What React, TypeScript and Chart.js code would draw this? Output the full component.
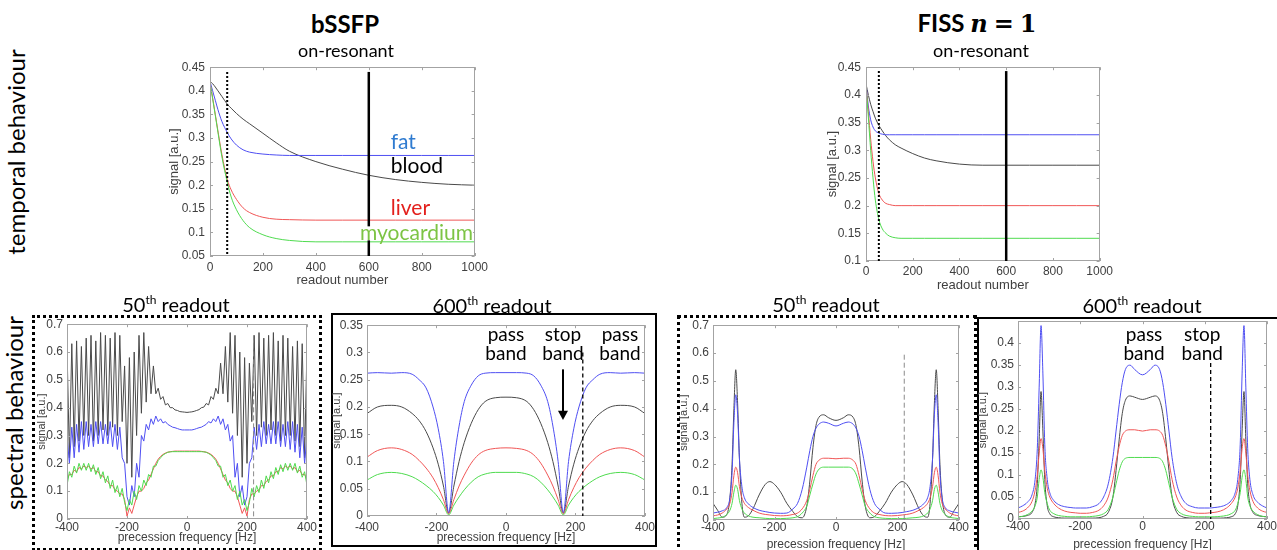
import React, { useEffect, useRef } from "react";
import { Chart, registerables } from "chart.js";
Chart.register(...registerables);

// ---------- colours ----------
const C_BLOOD = "#4a4a4a";
const C_FAT = "#4f4ff2";
const C_LIVER = "#f05656";
const C_MYO = "#4fdb4f";

// ---------- temporal behaviour, bSSFP (readout number) ----------
const readoutsBssfp = [0, 10, 20, 30, 45, 65, 80, 100, 125, 150, 200, 250, 300, 400, 500, 600, 700, 800, 900, 1000];
const bssfpBlood = [0.42, 0.415, 0.408, 0.4, 0.388, 0.372, 0.363, 0.352, 0.34, 0.33, 0.31, 0.29, 0.272, 0.25, 0.234, 0.221, 0.212, 0.206, 0.202, 0.2];
const bssfpFat = [0.42, 0.4, 0.38, 0.36, 0.335, 0.312, 0.298, 0.285, 0.275, 0.27, 0.266, 0.264, 0.263, 0.263, 0.263, 0.263, 0.263, 0.263, 0.263, 0.263];
const bssfpLiver = [0.418, 0.385, 0.35, 0.315, 0.265, 0.213, 0.19, 0.17, 0.152, 0.142, 0.132, 0.128, 0.127, 0.126, 0.126, 0.126, 0.126, 0.126, 0.126, 0.126];
const bssfpMyo = [0.418, 0.383, 0.348, 0.312, 0.26, 0.207, 0.175, 0.148, 0.125, 0.11, 0.095, 0.087, 0.083, 0.08, 0.08, 0.08, 0.08, 0.08, 0.08, 0.08];

// ---------- temporal behaviour, FISS n=1 ----------
const readoutsFiss = [0, 10, 20, 30, 40, 55, 70, 85, 100, 125, 150, 200, 250, 300, 400, 500, 600, 700, 800, 900, 1000];
const fissBlood = [0.42, 0.4, 0.383, 0.37, 0.358, 0.345, 0.335, 0.326, 0.319, 0.31, 0.304, 0.294, 0.286, 0.281, 0.275, 0.273, 0.273, 0.273, 0.273, 0.273, 0.273];
const fissFat = [0.42, 0.38, 0.355, 0.342, 0.335, 0.331, 0.329, 0.328, 0.328, 0.328, 0.328, 0.328, 0.328, 0.328, 0.328, 0.328, 0.328, 0.328, 0.328, 0.328, 0.328];
const fissLiver = [0.418, 0.37, 0.32, 0.28, 0.25, 0.222, 0.21, 0.204, 0.202, 0.2, 0.2, 0.2, 0.2, 0.2, 0.2, 0.2, 0.2, 0.2, 0.2, 0.2, 0.2];
const fissMyo = [0.418, 0.36, 0.3, 0.25, 0.21, 0.175, 0.158, 0.15, 0.145, 0.142, 0.141, 0.141, 0.141, 0.141, 0.141, 0.141, 0.141, 0.141, 0.141, 0.141, 0.141];

// ---------- spectral, bSSFP 50th readout ----------
const freqB50 = [
  -400, -392, -384, -376, -368, -360, -352, -344, -336, -328,
  -320, -312, -304, -296, -288, -280, -272, -264, -256, -248,
  -240, -232, -224, -216, -208, -200, -192, -184, -176, -168,
  -160, -152, -144, -136, -128, -120, -112, -104, -96, -88,
  -80, -72, -64, -56, -48, -40, -32, -24, -16, -8,
  0,
  8, 16, 24, 32, 40, 48, 56, 64, 72, 80,
  88, 96, 104, 112, 120, 128, 136, 144, 152, 160,
  168, 176, 184, 192, 200, 208, 216, 224, 232, 240,
  248, 256, 264, 272, 280, 288, 296, 304, 312, 320,
  328, 336, 344, 352, 360, 368, 376, 384, 392, 400,
];
const b50Blood = [
  0.62, 0.22, 0.63, 0.26, 0.64, 0.28, 0.62, 0.3, 0.65, 0.3,
  0.66, 0.28, 0.64, 0.3, 0.67, 0.32, 0.66, 0.3, 0.65, 0.33,
  0.67, 0.3, 0.66, 0.35, 0.55, 0.2, 0.58, 0.15, 0.6, 0.3,
  0.66, 0.38, 0.67, 0.42, 0.62, 0.45, 0.55, 0.45, 0.47, 0.43,
  0.44, 0.41, 0.415, 0.4, 0.4, 0.392, 0.39, 0.386, 0.385, 0.384,
  0.383,
  0.384, 0.385, 0.387, 0.39, 0.393, 0.4, 0.402, 0.415, 0.41, 0.44,
  0.43, 0.47, 0.45, 0.56, 0.45, 0.62, 0.42, 0.67, 0.38, 0.66,
  0.3, 0.6, 0.15, 0.58, 0.2, 0.56, 0.35, 0.66, 0.3, 0.67,
  0.33, 0.65, 0.3, 0.66, 0.32, 0.67, 0.3, 0.64, 0.28, 0.66,
  0.3, 0.65, 0.3, 0.62, 0.28, 0.64, 0.26, 0.63, 0.22, 0.62,
];
const b50Fat = [
  0.3, 0.2, 0.33, 0.22, 0.34, 0.24, 0.35, 0.25, 0.35, 0.26,
  0.34, 0.26, 0.35, 0.27, 0.35, 0.27, 0.34, 0.27, 0.35, 0.26,
  0.34, 0.25, 0.33, 0.22, 0.2, 0.08, 0.05, 0.12, 0.08, 0.2,
  0.15, 0.3, 0.28, 0.34, 0.32, 0.36, 0.34, 0.37, 0.35, 0.36,
  0.345, 0.35, 0.34, 0.335, 0.33, 0.328, 0.325, 0.322, 0.32, 0.32,
  0.32,
  0.32, 0.32, 0.322, 0.325, 0.328, 0.33, 0.335, 0.34, 0.35, 0.345,
  0.36, 0.35, 0.37, 0.34, 0.36, 0.32, 0.34, 0.28, 0.3, 0.15,
  0.2, 0.08, 0.12, 0.05, 0.08, 0.2, 0.22, 0.33, 0.25, 0.34,
  0.26, 0.35, 0.27, 0.34, 0.27, 0.35, 0.27, 0.35, 0.26, 0.34,
  0.26, 0.35, 0.25, 0.35, 0.24, 0.34, 0.22, 0.33, 0.2, 0.3,
];
const b50Liver = [
  0.14, 0.16, 0.16, 0.175, 0.17, 0.185, 0.18, 0.19, 0.185, 0.19,
  0.18, 0.185, 0.17, 0.17, 0.155, 0.155, 0.14, 0.135, 0.12, 0.12,
  0.105, 0.1, 0.09, 0.09, 0.07, 0.01, 0.04, 0.02, 0.05, 0.08,
  0.1, 0.1, 0.11, 0.13, 0.14, 0.16, 0.18, 0.2, 0.215, 0.225,
  0.232, 0.237, 0.24, 0.242, 0.243, 0.244, 0.244, 0.244, 0.244, 0.244,
  0.244,
  0.244, 0.244, 0.244, 0.244, 0.244, 0.243, 0.242, 0.24, 0.237, 0.232,
  0.225, 0.215, 0.2, 0.18, 0.16, 0.14, 0.13, 0.11, 0.1, 0.1,
  0.08, 0.05, 0.02, 0.04, 0.01, 0.07, 0.09, 0.09, 0.1, 0.105,
  0.12, 0.12, 0.135, 0.14, 0.155, 0.155, 0.17, 0.17, 0.185, 0.18,
  0.19, 0.185, 0.19, 0.18, 0.185, 0.17, 0.175, 0.16, 0.16, 0.14,
];
const b50Myo = [
  0.12, 0.17, 0.15, 0.19, 0.165, 0.2, 0.175, 0.2, 0.175, 0.2,
  0.17, 0.195, 0.16, 0.185, 0.145, 0.17, 0.13, 0.155, 0.11, 0.14,
  0.095, 0.12, 0.08, 0.11, 0.06, 0.03, 0.07, 0.05, 0.1, 0.07,
  0.12, 0.1, 0.14, 0.12, 0.16, 0.15, 0.19, 0.19, 0.21, 0.22,
  0.23, 0.235, 0.24, 0.241, 0.242, 0.242, 0.242, 0.242, 0.242, 0.242,
  0.242,
  0.242, 0.242, 0.242, 0.242, 0.242, 0.242, 0.241, 0.24, 0.235, 0.23,
  0.22, 0.21, 0.19, 0.19, 0.15, 0.16, 0.12, 0.14, 0.1, 0.12,
  0.07, 0.1, 0.05, 0.07, 0.03, 0.06, 0.11, 0.08, 0.12, 0.095,
  0.14, 0.11, 0.155, 0.13, 0.17, 0.145, 0.185, 0.16, 0.195, 0.17,
  0.2, 0.175, 0.2, 0.175, 0.2, 0.165, 0.19, 0.15, 0.17, 0.12,
];

// ---------- spectral, bSSFP 600th readout ----------
const freqB600 = [-400, -370, -330, -300, -270, -250, -230, -210, -195, -180, -165, -150, -135, -120, -100, -80, -60, -30, 0, 30, 60, 80, 100, 120, 135, 150, 165, 180, 195, 210, 230, 250, 270, 300, 330, 370, 400];
const b600Fat = [0.262, 0.263, 0.262, 0.263, 0.26, 0.25, 0.235, 0.2, 0.16, 0.1, 0.006, 0.1, 0.165, 0.21, 0.24, 0.257, 0.262, 0.263, 0.263, 0.263, 0.262, 0.257, 0.24, 0.21, 0.165, 0.1, 0.006, 0.1, 0.16, 0.2, 0.235, 0.25, 0.26, 0.263, 0.262, 0.263, 0.262];
const b600Blood = [0.188, 0.2, 0.203, 0.2, 0.188, 0.175, 0.155, 0.125, 0.095, 0.055, 0.005, 0.055, 0.1, 0.135, 0.17, 0.195, 0.21, 0.217, 0.218, 0.217, 0.21, 0.195, 0.17, 0.135, 0.1, 0.055, 0.005, 0.055, 0.095, 0.125, 0.155, 0.175, 0.188, 0.2, 0.203, 0.2, 0.188];
const b600Liver = [0.108, 0.12, 0.125, 0.122, 0.113, 0.102, 0.088, 0.07, 0.052, 0.03, 0.004, 0.03, 0.055, 0.075, 0.097, 0.112, 0.12, 0.124, 0.125, 0.124, 0.12, 0.112, 0.097, 0.075, 0.055, 0.03, 0.004, 0.03, 0.052, 0.07, 0.088, 0.102, 0.113, 0.122, 0.125, 0.12, 0.108];
const b600Myo = [0.066, 0.076, 0.08, 0.078, 0.072, 0.065, 0.056, 0.045, 0.034, 0.02, 0.002, 0.02, 0.035, 0.048, 0.062, 0.072, 0.077, 0.08, 0.08, 0.08, 0.077, 0.072, 0.062, 0.048, 0.035, 0.02, 0.002, 0.02, 0.034, 0.045, 0.056, 0.065, 0.072, 0.078, 0.08, 0.076, 0.066];

// ---------- spectral, FISS (shared frequency grid) ----------
const freqFiss = [
  -400, -385, -370, -355, -345, -338, -332, -326, -320, -314, -306, -298, -285, -270, -250, -230, -215, -200, -180, -160, -140, -125, -110, -95, -85, -75, -65, -55, -40, -25,
  0,
  25, 40, 55, 65, 75, 85, 95, 110, 125, 140, 160, 180, 200, 215, 230, 250, 270, 285, 298, 306, 314, 320, 326, 332, 338, 345, 355, 370, 385, 400,
];
const f50Blood = [
  0.06, 0.035, 0.01, 0.02, 0.08, 0.2, 0.4, 0.54, 0.42, 0.22, 0.06, 0.01, 0.015, 0.04, 0.09, 0.128, 0.138, 0.128, 0.1, 0.06, 0.03, 0.012, 0.008, 0.05, 0.14, 0.26, 0.34, 0.37, 0.378, 0.368,
  0.358,
  0.368, 0.378, 0.37, 0.34, 0.26, 0.14, 0.05, 0.008, 0.012, 0.03, 0.06, 0.1, 0.128, 0.138, 0.128, 0.09, 0.04, 0.015, 0.01, 0.06, 0.22, 0.42, 0.54, 0.4, 0.2, 0.08, 0.02, 0.01, 0.035, 0.06,
];
const f50Fat = [
  0.025, 0.028, 0.033, 0.045, 0.08, 0.17, 0.35, 0.45, 0.38, 0.22, 0.12, 0.08, 0.058, 0.045, 0.035, 0.03, 0.027, 0.025, 0.024, 0.025, 0.04, 0.06, 0.11, 0.19, 0.25, 0.3, 0.33, 0.345, 0.352, 0.348,
  0.338,
  0.348, 0.352, 0.345, 0.33, 0.3, 0.25, 0.19, 0.11, 0.06, 0.04, 0.025, 0.024, 0.025, 0.027, 0.03, 0.035, 0.045, 0.058, 0.08, 0.12, 0.22, 0.38, 0.45, 0.35, 0.17, 0.08, 0.045, 0.033, 0.028, 0.025,
];
const f50Liver = [
  0.015, 0.018, 0.025, 0.04, 0.06, 0.1, 0.16, 0.19, 0.17, 0.12, 0.08, 0.06, 0.045, 0.035, 0.025, 0.02, 0.018, 0.016, 0.015, 0.016, 0.02, 0.025, 0.04, 0.07, 0.11, 0.16, 0.2, 0.215, 0.222, 0.222,
  0.22,
  0.222, 0.222, 0.215, 0.2, 0.16, 0.11, 0.07, 0.04, 0.025, 0.02, 0.016, 0.015, 0.016, 0.018, 0.02, 0.025, 0.035, 0.045, 0.06, 0.08, 0.12, 0.17, 0.19, 0.16, 0.1, 0.06, 0.04, 0.025, 0.018, 0.015,
];
const f50Myo = [
  0.005, 0.007, 0.01, 0.02, 0.035, 0.06, 0.1, 0.125, 0.11, 0.07, 0.04, 0.025, 0.015, 0.01, 0.008, 0.006, 0.005, 0.005, 0.005, 0.006, 0.008, 0.012, 0.025, 0.05, 0.09, 0.13, 0.165, 0.183, 0.19, 0.19,
  0.19,
  0.19, 0.19, 0.183, 0.165, 0.13, 0.09, 0.05, 0.025, 0.012, 0.008, 0.006, 0.005, 0.005, 0.005, 0.006, 0.008, 0.01, 0.015, 0.025, 0.04, 0.07, 0.11, 0.125, 0.1, 0.06, 0.035, 0.02, 0.01, 0.007, 0.005,
];
const f600Blood = [
  0.005, 0.006, 0.008, 0.015, 0.035, 0.08, 0.18, 0.29, 0.2, 0.09, 0.03, 0.012, 0.005, 0.003, 0.002, 0.002, 0.002, 0.002, 0.002, 0.002, 0.003, 0.006, 0.015, 0.05, 0.11, 0.18, 0.24, 0.27, 0.28, 0.277,
  0.272,
  0.277, 0.28, 0.27, 0.24, 0.18, 0.11, 0.05, 0.015, 0.006, 0.003, 0.002, 0.002, 0.002, 0.002, 0.002, 0.002, 0.003, 0.005, 0.012, 0.03, 0.09, 0.2, 0.29, 0.18, 0.08, 0.035, 0.015, 0.008, 0.006, 0.005,
];
const f600Fat = [
  0.025, 0.03, 0.038, 0.055, 0.09, 0.16, 0.3, 0.44, 0.33, 0.17, 0.09, 0.06, 0.042, 0.033, 0.028, 0.026, 0.025, 0.025, 0.025, 0.028, 0.035, 0.05, 0.08, 0.14, 0.2, 0.26, 0.31, 0.34, 0.35, 0.34,
  0.328,
  0.34, 0.35, 0.34, 0.31, 0.26, 0.2, 0.14, 0.08, 0.05, 0.035, 0.028, 0.025, 0.025, 0.025, 0.026, 0.028, 0.033, 0.042, 0.06, 0.09, 0.17, 0.33, 0.44, 0.3, 0.16, 0.09, 0.055, 0.038, 0.03, 0.025,
];
const f600Liver = [
  0.015, 0.018, 0.025, 0.04, 0.065, 0.1, 0.15, 0.183, 0.16, 0.11, 0.07, 0.05, 0.035, 0.025, 0.018, 0.015, 0.014, 0.013, 0.013, 0.015, 0.02, 0.03, 0.05, 0.09, 0.13, 0.165, 0.19, 0.2, 0.203, 0.203,
  0.2,
  0.203, 0.203, 0.2, 0.19, 0.165, 0.13, 0.09, 0.05, 0.03, 0.02, 0.015, 0.013, 0.013, 0.014, 0.015, 0.018, 0.025, 0.035, 0.05, 0.07, 0.11, 0.16, 0.183, 0.15, 0.1, 0.065, 0.04, 0.025, 0.018, 0.015,
];
const f600Myo = [
  0.005, 0.006, 0.01, 0.018, 0.03, 0.05, 0.09, 0.112, 0.095, 0.06, 0.035, 0.02, 0.012, 0.008, 0.006, 0.005, 0.005, 0.005, 0.005, 0.006, 0.008, 0.012, 0.022, 0.05, 0.08, 0.11, 0.13, 0.138, 0.14, 0.14,
  0.14,
  0.14, 0.14, 0.138, 0.13, 0.11, 0.08, 0.05, 0.022, 0.012, 0.008, 0.006, 0.005, 0.005, 0.005, 0.005, 0.006, 0.008, 0.012, 0.02, 0.035, 0.06, 0.095, 0.112, 0.09, 0.05, 0.03, 0.018, 0.01, 0.006, 0.005,
];

// ---------- annotation texts ----------
const tissueLabels = [
  { text: "fat", color: "#2f7bd0", x: 683, y: 0.29 },
  { text: "blood", color: "#000000", x: 683, y: 0.24 },
  { text: "liver", color: "#e3201c", x: 683, y: 0.152 },
  { text: "myocardium", color: "#7dc444", x: 567, y: 0.098, bg: true },
];

// ---------- layout ----------
const PAD_T = 8;
const PAD_R = 14;
const AX_FONT = '"Liberation Sans", Arial, sans-serif';
const AX_COLOR = "#404040";

type Series = { y: number[]; color: string };
type Spec = {
  plot: [number, number, number, number];
  yW: number;
  xH: number;
  x: number[];
  series: Series[];
  xr: [number, number, number];
  yr: [number, number, number];
  xTitle: string;
  yTitleSize: number;
  xTitleSize: number;
  xPad: number;
  yPad: number;
  mono: boolean;
  hideAbove?: number;
  draw?: (ctx: CanvasRenderingContext2D, px: (v: number) => number, py: (v: number) => number) => void;
};

function vline(ctx: CanvasRenderingContext2D, x: number, y1: number, y2: number) {
  ctx.beginPath();
  ctx.moveTo(x, y1);
  ctx.lineTo(x, y2);
  ctx.stroke();
}

function bandText(ctx: CanvasRenderingContext2D, px: (v: number) => number, py: (v: number) => number, items: [string, number][], y1: number, y2: number) {
  ctx.font = "19px Lato, sans-serif";
  ctx.fillStyle = "#000";
  ctx.textAlign = "center";
  ctx.textBaseline = "middle";
  items.forEach(([w, x]) => {
    ctx.fillText(w, px(x), py(y1));
    ctx.fillText("band", px(x), py(y2));
  });
}

const SPECS: Spec[] = [
  {
    plot: [210, 63, 478, 256], yW: 43, xH: 32, x: readoutsBssfp,
    series: [
      { y: bssfpMyo, color: C_MYO }, { y: bssfpLiver, color: C_LIVER },
      { y: bssfpFat, color: C_FAT }, { y: bssfpBlood, color: C_BLOOD },
    ],
    xr: [0, 1000, 200], yr: [0.05, 0.45, 0.05], xTitle: "readout number",
    yTitleSize: 13, xTitleSize: 13, xPad: 4, yPad: 5, mono: true,
    draw: (ctx, px, py) => {
      ctx.strokeStyle = "#000";
      ctx.lineWidth = 2;
      ctx.setLineDash([2, 2]);
      vline(ctx, px(65), py(0.44), py(0.05));
      ctx.setLineDash([]);
      ctx.lineWidth = 2.5;
      vline(ctx, px(600), py(0.44), py(0.05));
      ctx.font = "21px Lato, sans-serif";
      ctx.textAlign = "left";
      ctx.textBaseline = "middle";
      tissueLabels.forEach((l) => {
        if (l.bg) {
          const w = ctx.measureText(l.text).width;
          ctx.fillStyle = "#fff";
          ctx.fillRect(px(l.x), py(l.y) - 7, w, 14);
        }
        ctx.fillStyle = l.color;
        ctx.fillText(l.text, px(l.x), py(l.y));
      });
    },
  },
  {
    plot: [866, 63, 1102, 261], yW: 41, xH: 32, x: readoutsFiss,
    series: [
      { y: fissMyo, color: C_MYO }, { y: fissLiver, color: C_LIVER },
      { y: fissFat, color: C_FAT }, { y: fissBlood, color: C_BLOOD },
    ],
    xr: [0, 1000, 200], yr: [0.1, 0.45, 0.05], xTitle: "readout number",
    yTitleSize: 13, xTitleSize: 13, xPad: 3, yPad: 5, mono: true,
    draw: (ctx, px, py) => {
      ctx.strokeStyle = "#000";
      ctx.lineWidth = 2;
      ctx.setLineDash([2, 2]);
      vline(ctx, px(55), py(0.443), py(0.1));
      ctx.setLineDash([]);
      ctx.lineWidth = 2.5;
      vline(ctx, px(600), py(0.443), py(0.1));
    },
  },
  {
    plot: [67, 321, 307, 519], yW: 32, xH: 26, x: freqB50,
    series: [
      { y: b50Myo, color: C_MYO }, { y: b50Liver, color: C_LIVER },
      { y: b50Fat, color: C_FAT }, { y: b50Blood, color: C_BLOOD },
    ],
    xr: [-400, 400, 200], yr: [0, 0.7, 0.1], xTitle: "precession frequency [Hz]",
    yTitleSize: 11, xTitleSize: 12, xPad: 1, yPad: 4, mono: false,
    draw: (ctx, px, py) => {
      ctx.strokeStyle = "#8a8a8a";
      ctx.lineWidth = 1;
      ctx.setLineDash([5, 3]);
      vline(ctx, px(222), py(0.66), py(0));
      ctx.setLineDash([]);
    },
  },
  {
    plot: [367, 322, 645, 516], yW: 37, xH: 29, x: freqB600,
    series: [
      { y: b600Myo, color: C_MYO }, { y: b600Liver, color: C_LIVER },
      { y: b600Fat, color: C_FAT }, { y: b600Blood, color: C_BLOOD },
    ],
    xr: [-400, 400, 200], yr: [0, 0.35, 0.05], xTitle: "precession frequency [Hz]",
    yTitleSize: 11, xTitleSize: 12, xPad: 4, yPad: 4, mono: true,
    draw: (ctx, px, py) => {
      ctx.strokeStyle = "#000";
      ctx.lineWidth = 1.3;
      ctx.setLineDash([4, 3]);
      vline(ctx, px(221), py(0.3), py(0));
      ctx.setLineDash([]);
      bandText(ctx, px, py, [["pass", 0], ["stop", 164], ["pass", 328]], 0.332, 0.298);
      ctx.lineWidth = 2;
      ctx.strokeStyle = "#000";
      vline(ctx, px(164), py(0.269), py(0.19));
      ctx.beginPath();
      ctx.moveTo(px(164) - 5, py(0.193));
      ctx.lineTo(px(164) + 5, py(0.193));
      ctx.lineTo(px(164), py(0.176));
      ctx.closePath();
      ctx.fillStyle = "#000";
      ctx.fill();
    },
  },
  {
    plot: [713, 322, 959, 520], yW: 36, xH: 32, x: freqFiss,
    series: [
      { y: f50Myo, color: C_MYO }, { y: f50Liver, color: C_LIVER },
      { y: f50Fat, color: C_FAT }, { y: f50Blood, color: C_BLOOD },
    ],
    xr: [-400, 400, 200], yr: [0, 0.7, 0.1], xTitle: "precession frequency [Hz]",
    yTitleSize: 11, xTitleSize: 12, xPad: 0, yPad: 4, mono: true,
    draw: (ctx, px, py) => {
      ctx.strokeStyle = "#8a8a8a";
      ctx.lineWidth = 1;
      ctx.setLineDash([5, 3]);
      vline(ctx, px(222), py(0.594), py(0));
      ctx.setLineDash([]);
    },
  },
  {
    plot: [1018, 318, 1267, 519], yW: 42, xH: 33, x: freqFiss,
    series: [
      { y: f600Myo, color: C_MYO }, { y: f600Liver, color: C_LIVER },
      { y: f600Fat, color: C_FAT }, { y: f600Blood, color: C_BLOOD },
    ],
    xr: [-400, 400, 200], yr: [0, 0.45, 0.05], xTitle: "precession frequency [Hz]",
    yTitleSize: 11, xTitleSize: 12, xPad: 0, yPad: 4, mono: true, hideAbove: 0.44,
    draw: (ctx, px, py) => {
      ctx.strokeStyle = "#000";
      ctx.lineWidth = 1.3;
      ctx.setLineDash([4, 3]);
      vline(ctx, px(219), py(0.355), py(0));
      ctx.setLineDash([]);
      bandText(ctx, px, py, [["pass", 5], ["stop", 192]], 0.418, 0.375);
    },
  },
];

function fmt(v: number, hideAbove?: number) {
  const n = Math.round(v * 1000) / 1000;
  if (hideAbove !== undefined && n > hideAbove) return "";
  return String(n);
}

function build(canvas: HTMLCanvasElement, s: Spec): Chart {
  const deco = {
    id: "deco",
    afterDatasetsDraw(chart: any) {
      const { ctx, chartArea: a, scales } = chart;
      const xs = scales.x;
      const ys = scales.y;
      ctx.save();
      ctx.strokeStyle = "#a3a3a3";
      ctx.lineWidth = 1;
      ctx.strokeRect(Math.round(a.left) + 0.5, Math.round(a.top) + 0.5, Math.round(a.right - a.left) - 1, Math.round(a.bottom - a.top) - 1);
      ctx.beginPath();
      xs.ticks.forEach((t: any) => {
        const p = Math.round(xs.getPixelForValue(t.value)) + 0.5;
        ctx.moveTo(p, a.bottom);
        ctx.lineTo(p, a.bottom - 3);
        ctx.moveTo(p, a.top);
        ctx.lineTo(p, a.top + 3);
      });
      ys.ticks.forEach((t: any) => {
        const p = Math.round(ys.getPixelForValue(t.value)) + 0.5;
        ctx.moveTo(a.left, p);
        ctx.lineTo(a.left + 3, p);
        ctx.moveTo(a.right, p);
        ctx.lineTo(a.right - 3, p);
      });
      ctx.stroke();
      if (s.draw) {
        s.draw(ctx, (v) => xs.getPixelForValue(v), (v) => ys.getPixelForValue(v));
      }
      ctx.restore();
    },
  };
  return new Chart(canvas, {
    type: "line",
    data: {
      datasets: s.series.map((se) => ({
        data: s.x.map((xv, i) => ({ x: xv, y: se.y[i] })),
        borderColor: se.color,
        backgroundColor: se.color,
        borderWidth: 1,
        pointRadius: 0,
        fill: false,
        tension: 0,
        cubicInterpolationMode: s.mono ? "monotone" : "default",
      })),
    },
    options: {
      animation: false,
      responsive: false,
      devicePixelRatio: 1,
      events: [],
      layout: { padding: { top: PAD_T, right: PAD_R, left: 0, bottom: 0 } },
      plugins: { legend: { display: false }, tooltip: { enabled: false } },
      scales: {
        x: {
          type: "linear",
          min: s.xr[0],
          max: s.xr[1],
          afterFit: (sc: any) => { sc.height = s.xH; },
          ticks: {
            stepSize: s.xr[2], autoSkip: false, maxRotation: 0, padding: s.xPad,
            font: { family: AX_FONT, size: 12 }, color: AX_COLOR,
            callback: (v: any) => fmt(Number(v)),
          },
          grid: { display: false, drawTicks: false },
          border: { display: false },
          title: { display: true, text: s.xTitle, font: { family: AX_FONT, size: s.xTitleSize }, color: AX_COLOR, padding: 0 },
        },
        y: {
          type: "linear",
          min: s.yr[0],
          max: s.yr[1],
          afterFit: (sc: any) => { sc.width = s.yW; },
          ticks: {
            stepSize: s.yr[2], autoSkip: false, padding: s.yPad,
            font: { family: AX_FONT, size: 12 }, color: AX_COLOR,
            callback: (v: any) => fmt(Number(v), s.hideAbove),
          },
          grid: { display: false, drawTicks: false },
          border: { display: false },
          title: { display: true, text: "signal [a.u.]", font: { family: AX_FONT, size: s.yTitleSize }, color: AX_COLOR, padding: 0 },
        },
      },
    } as any,
    plugins: [deco],
  });
}

const centered = (x: number, y: number, extra: React.CSSProperties = {}): React.CSSProperties => ({
  position: "absolute", left: x, top: y, transform: "translate(-50%, -50%)", whiteSpace: "nowrap", ...extra,
});

function Sub({ n }: { n: string }) {
  return (
    <span>
      {n}
      <span style={{ fontSize: "0.6em", position: "relative", top: "-0.65em" }}>th</span> readout
    </span>
  );
}

export default function App() {
  const refs = useRef<(HTMLCanvasElement | null)[]>([]);
  useEffect(() => {
    const charts = SPECS.map((s, i) => build(refs.current[i] as HTMLCanvasElement, s));
    return () => charts.forEach((c) => c.destroy());
  }, []);
  return (
    <div style={{ position: "fixed", left: 0, top: 0, width: 1277, height: 550, background: "#fff", overflow: "hidden", fontFamily: "Lato, sans-serif", color: "#000" }}>
      {/* panel frames */}
      <div style={{ position: "absolute", left: 32, top: 315, width: 290, height: 236, border: "3px dotted #000", boxSizing: "border-box" }} />
      <div style={{ position: "absolute", left: 331, top: 313, width: 326, height: 234, border: "2px solid #000", boxSizing: "border-box" }} />
      <div style={{ position: "absolute", left: 677, top: 315, width: 300, height: 240, border: "3px dotted #000", boxSizing: "border-box" }} />
      <div style={{ position: "absolute", left: 977, top: 317, width: 310, height: 240, border: "2px solid #000", boxSizing: "border-box" }} />

      {SPECS.map((s, i) => {
        const [L, T, R, B] = s.plot;
        const w = s.yW + (R - L) + PAD_R;
        const h = PAD_T + (B - T) + s.xH;
        return (
          <canvas
            key={i}
            ref={(el) => { refs.current[i] = el; }}
            width={w}
            height={h}
            style={{ position: "absolute", left: L - s.yW, top: T - PAD_T, width: w, height: h }}
          />
        );
      })}

      {/* headings */}
      <div style={centered(345, 23, { fontSize: 24, fontWeight: 700 })}>bSSFP</div>
      <div style={centered(977, 23, { fontSize: 24, fontWeight: 700 })}>
        <span>FISS </span>
        <span style={{ fontFamily: '"DejaVu Serif", serif', fontStyle: "italic" }}>n</span>
        <span style={{ fontFamily: '"DejaVu Serif", serif', margin: "0 6px" }}>=</span>
        <span style={{ fontFamily: '"DejaVu Serif", serif' }}>1</span>
      </div>
      <div style={centered(346, 50, { fontSize: 18 })}>on-resonant</div>
      <div style={centered(981, 50, { fontSize: 18 })}>on-resonant</div>

      <div style={centered(15, 152, { fontSize: 24, transform: "translate(-50%, -50%) rotate(-90deg)" })}>temporal behaviour</div>
      <div style={centered(13, 413, { fontSize: 24, transform: "translate(-50%, -50%) rotate(-90deg)" })}>spectral behaviour</div>

      <div style={centered(176, 304, { fontSize: 20 })}><Sub n="50" /></div>
      <div style={centered(492, 305, { fontSize: 20 })}><Sub n="600" /></div>
      <div style={centered(826, 304, { fontSize: 20 })}><Sub n="50" /></div>
      <div style={centered(1142, 305, { fontSize: 20 })}><Sub n="600" /></div>
    </div>
  );
}
